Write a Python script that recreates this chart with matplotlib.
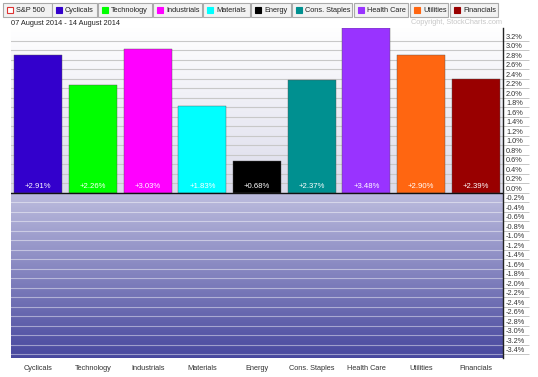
"""
Sector performance bar chart, 07-14 August 2014 (StockCharts style)
"""

import numpy as np
import matplotlib
matplotlib.use("Agg")
import matplotlib.pyplot as plt
from matplotlib.patches import Rectangle

plt.rcParams['font.family'] = ['Liberation Sans', 'DejaVu Sans']

sectors = ["Cyclicals", "Technology", "Industrials", "Materials", "Energy",
           "Cons. Staples", "Health Care", "Utilities", "Financials"]
changes = [2.91, 2.26, 3.03, 1.83, 0.68, 2.37, 3.48, 2.90, 2.39]
colors = ["#3300cc", "#00ff00", "#ff00ff", "#00ffff", "#000000",
          "#009090", "#9933ff", "#ff6611", "#990000"]
ytick_vals = [round(v, 1) for v in np.arange(-3.4, 3.21, 0.2)]

W, H = 538, 377
FS = 5.3


def px(x, y):
    # pixel (from top-left) -> figure fraction
    return x / W, 1 - y / H


fig = plt.figure(figsize=(W / 100, H / 100), dpi=100)
ax = fig.add_axes([11 / W, 1 - 357.7 / H, 492 / W, (357.7 - 27.5) / H])

ymin, ymax = -3.47, 3.48

# background gradients
n = 200
top = np.array([1.0, 1.0, 1.0])
zero_up = np.array([0.86, 0.86, 0.92])
zero_dn = np.array([0.74, 0.74, 0.87])
bottom = np.array([0.28, 0.28, 0.62])
t = np.linspace(0, 1, n)[:, None]
pos_grad = (top * (1 - t) + zero_up * t)[:, None, :]
neg_grad = (zero_dn * (1 - t) + bottom * t)[:, None, :]
ax.imshow(pos_grad, extent=(-0.5, 8.5, 0, ymax), aspect='auto', zorder=0)
ax.imshow(neg_grad, extent=(-0.5, 8.5, ymin, 0), aspect='auto', zorder=0)
ax.set_xlim(-0.5, len(sectors) - 0.5)
ax.set_ylim(ymin, ymax)

# gridlines
for v in ytick_vals:
    if v > 0:
        ax.axhline(v, color="#c8c8c8", lw=0.8, zorder=1)
    elif v < 0:
        ax.axhline(v, color="#ffffff", lw=0.8, alpha=0.45, zorder=1)

x = np.arange(len(sectors))
ax.bar(x, changes, width=0.88, color=colors, edgecolor="#555555",
       linewidth=0.3, zorder=2)
ax.axhline(0, color="#111111", lw=1.0, zorder=3)

for xi, v in zip(x, changes):
    ax.text(xi, 0.07, "+%.2f%%" % v, ha='center', va='bottom',
            color='white', fontsize=5.6, zorder=4)

for s in ["left", "top", "bottom"]:
    ax.spines[s].set_visible(False)
ax.spines["right"].set_color("#222222")
ax.spines["right"].set_linewidth(1.0)

ax.set_xticks(x)
ax.set_xticklabels(sectors, fontsize=FS, color="#333333")
ax.tick_params(axis='x', length=0, pad=5)

ax.yaxis.tick_right()
ax.set_yticks(ytick_vals)
ax.set_yticklabels([])
ax.tick_params(axis='y', direction='out', length=19, width=0.6,
               color="#bbbbbb")
for v in ytick_vals:
    ax.text(1.006, v, "%.1f%%" % v, transform=ax.get_yaxis_transform(),
            ha='left', va='bottom', fontsize=FS, color="#333333")

# legend buttons along the top
buttons = [("S&P 500", 3, 52), ("Cyclicals", 52, 97), ("Technology", 98, 152),
           ("Industrials", 153, 202), ("Materials", 203, 250),
           ("Energy", 251, 291), ("Cons. Staples", 292, 352),
           ("Health Care", 354, 408), ("Utilities", 410, 448),
           ("Financials", 450, 498)]
swatches = ["white"] + colors
for (label, x0, x1), c in zip(buttons, swatches):
    fx0, fy0 = px(x0, 16.5)
    fx1, fy1 = px(x1, 3)
    fig.patches.append(Rectangle((fx0, fy0), fx1 - fx0, fy1 - fy0,
                                 transform=fig.transFigure, facecolor="#f2f2f2",
                                 edgecolor="#aaaaaa", linewidth=0.8))
    sx, sy = px(x0 + 4, 13)
    edge = "#dd3333" if c == "white" else c
    fig.patches.append(Rectangle((sx, sy), 6 / W, 6 / H,
                                 transform=fig.transFigure, facecolor=c,
                                 edgecolor=edge, linewidth=0.8))
    tx, ty = px(x0 + 13, 10)
    fig.text(tx, ty, label, fontsize=FS, va='center', ha='left',
             color="#222222")

fig.text(*px(11, 23.5), "07 August 2014 - 14 August 2014", fontsize=FS,
         va='center', ha='left', color="#222222")
fig.text(*px(502, 22), "Copyright, StockCharts.com", fontsize=FS,
         va='center', ha='right', color="#c8c8c8")

fig.savefig("out.png", dpi=100)
